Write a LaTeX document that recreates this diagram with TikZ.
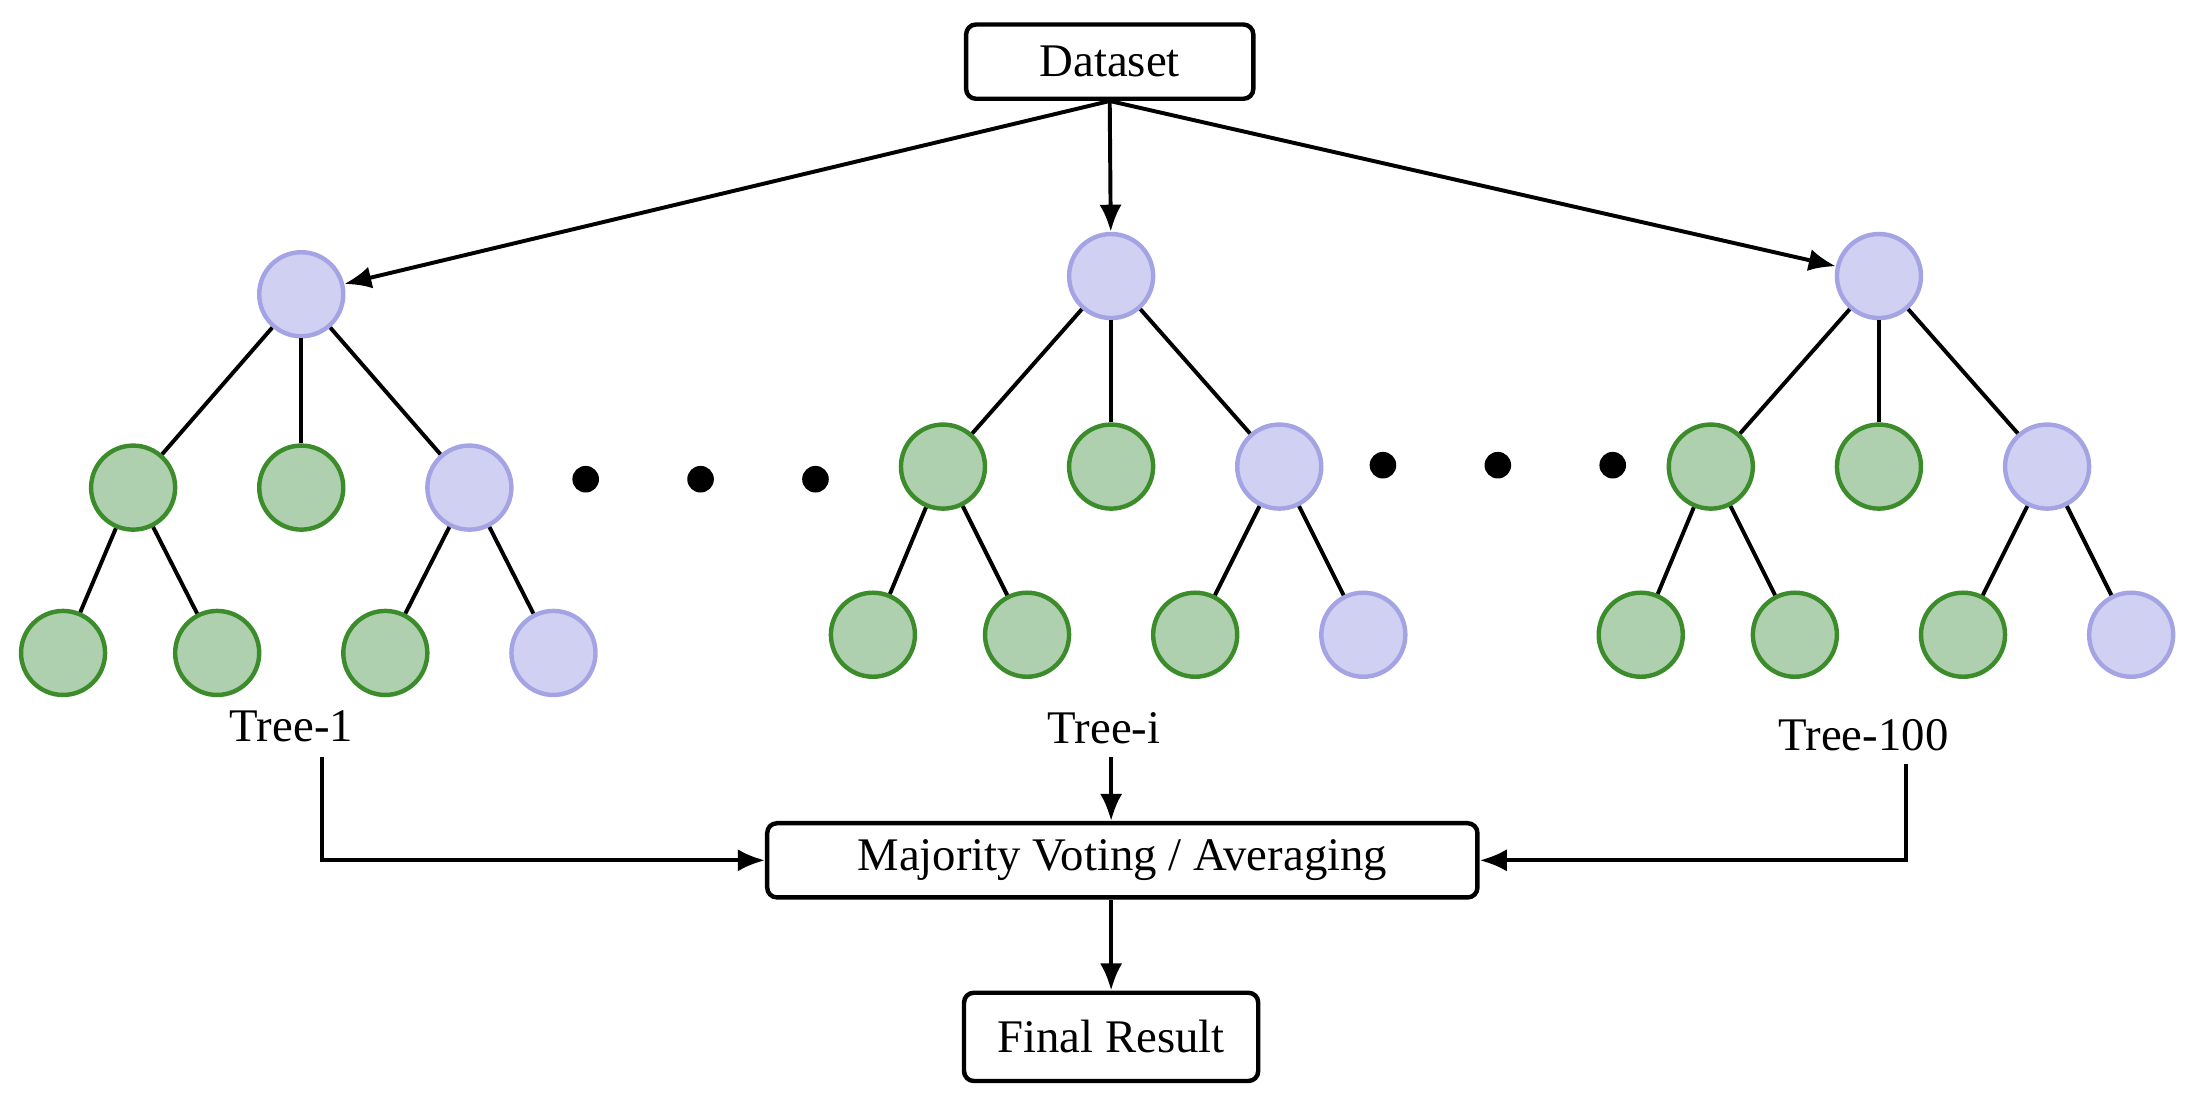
\documentclass[tikz,border=0pt]{standalone}
\usepackage{fontspec}
\setmainfont{Liberation Serif}
\usetikzlibrary{arrows.meta}
\definecolor{pf}{HTML}{D0D0F2}\definecolor{pd}{HTML}{A4A4E4}
\definecolor{gf}{HTML}{AED0AE}\definecolor{gd}{HTML}{3C8C2C}
\begin{document}
\begin{tikzpicture}[x=0.02cm,y=-0.02cm,
 font=\fontsize{19}{22}\selectfont,
 p/.style={circle,draw=pd,fill=pf,line width=1.8pt,minimum size=1.2cm,inner sep=0},
 g/.style={circle,draw=gd,fill=gf,line width=1.8pt,minimum size=1.2cm,inner sep=0},
 box/.style={draw,rounded corners=4pt,line width=1.8pt,inner sep=0},
 e/.style={line width=1.6pt},
 ar/.style={line width=1.6pt,-{Latex[length=11pt,width=9pt]}},
 dot/.style={circle,fill,inner sep=0,minimum size=0.38cm}]
\useasboundingbox (0,0) rectangle (1568,788);
\node[box,minimum width=4.1cm,minimum height=1.06cm] (ds) at (792,44) {Dataset};
\node[box,minimum width=10.14cm,minimum height=1.06cm] (mv) at (801,614) {Majority Voting / Averaging};
\node[box,minimum width=4.2cm,minimum height=1.26cm] (fr) at (793,740) {Final Result};
% tree 1
\node[p] (a) at (215,210) {};
\node[g] (a1) at (95,348) {}; \node[g] (a2) at (215,348) {}; \node[p] (a3) at (335,348) {};
\node[g] (a11) at (45,466) {}; \node[g] (a12) at (155,466) {}; \node[g] (a31) at (275,466) {}; \node[p] (a32) at (395,466) {};
% tree i
\node[p] (b) at (793,197) {};
\node[g] (b1) at (673,333) {}; \node[g] (b2) at (793,333) {}; \node[p] (b3) at (913,333) {};
\node[g] (b11) at (623,453) {}; \node[g] (b12) at (733,453) {}; \node[g] (b31) at (853,453) {}; \node[p] (b32) at (973,453) {};
% tree 100
\node[p] (c) at (1341,197) {};
\node[g] (c1) at (1221,333) {}; \node[g] (c2) at (1341,333) {}; \node[p] (c3) at (1461,333) {};
\node[g] (c11) at (1171,453) {}; \node[g] (c12) at (1281,453) {}; \node[g] (c31) at (1401,453) {}; \node[p] (c32) at (1521,453) {};
\foreach \t in {a,b,c}{
 \draw[e] (\t)--(\t1); \draw[e] (\t)--(\t2); \draw[e] (\t)--(\t3);
 \draw[e] (\t1)--(\t11); \draw[e] (\t1)--(\t12); \draw[e] (\t3)--(\t31); \draw[e] (\t3)--(\t32);}
\foreach \x/\n in {418/d1,500/d2,582/d3}{\node[dot] (\n) at (\x,342) {};}
\foreach \x/\n in {987/d4,1069/d5,1151/d6}{\node[dot] (\n) at (\x,332) {};}
\node (t1) at (208,518) {Tree-1};
\node (ti) at (788,520) {Tree-i};
\node (tc) at (1330,525) {Tree-100};
\draw[ar] (ds.south) -- (a);
\draw[ar] (ds.south) -- (b);
\draw[ar] (ds.south) -- (c);
\coordinate (k1) at (230,540); \coordinate (k2) at (1360,545); \coordinate (k3) at (793,540);
\draw[e,-{Latex[length=11pt,width=9pt]}] (k1) |- (mv.west);
\draw[e,-{Latex[length=11pt,width=9pt]}] (k2) |- (mv.east);
\draw[ar] (k3) -- (k3 |- mv.north);
\draw[ar] (mv.south -| fr) -- (fr.north);
\end{tikzpicture}
\end{document}
